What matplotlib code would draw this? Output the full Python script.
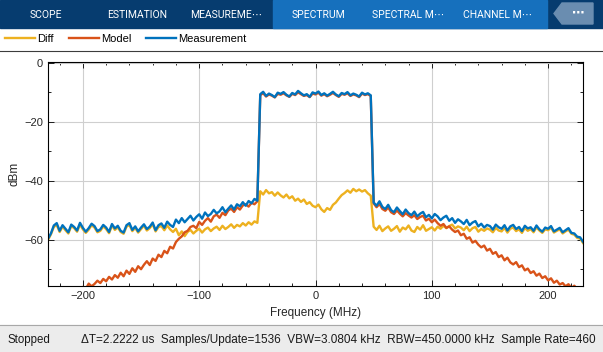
import numpy as np
import matplotlib
matplotlib.use("Agg")
import matplotlib.pyplot as plt
from matplotlib.patches import Rectangle, Polygon
from matplotlib.lines import Line2D
from matplotlib.ticker import MultipleLocator

plt.rcParams['font.family'] = ['Liberation Sans', 'DejaVu Sans']

# frequency grid of the spectrum trace (MHz)
freq = np.arange(-230, 230.01, 2.5)

# Measurement trace (dBm): left skirt, in-band, right skirt
meas_left = [-59.6, -57.8, -55.1, -54.3, -56.9, -55.0, -56.2, -57.4, -54.8, -55.6,
             -56.8, -54.2, -55.9, -57.2, -56.0, -54.5, -55.3, -57.0, -56.4, -54.9,
             -55.8, -57.3, -54.6, -56.1, -55.2, -56.9, -57.5, -55.0, -54.3, -56.6,
             -55.4, -57.1, -55.8, -54.7, -56.3, -55.5, -54.1, -56.7, -55.0, -54.4,
             -55.9, -53.8, -54.9, -55.6, -53.1, -54.3, -52.6, -54.0, -52.9, -51.8,
             -53.4, -52.2, -51.3, -52.8, -50.7, -51.9, -51.2, -49.8, -51.0, -50.3,
             -48.9, -50.6, -49.4, -48.3, -49.7, -47.9, -48.6, -47.2, -48.4, -46.8,
             -47.6, -46.1, -46.7]
meas_band = [-10.6, -9.8, -11.2, -10.4, -10.9, -11.6, -10.1, -10.5, -9.9, -10.8,
             -11.4, -10.2, -10.7, -9.5, -10.3, -11.0, -10.6, -11.5, -10.0, -10.4,
             -9.7, -10.9, -10.3, -11.1, -10.5, -9.8, -10.7, -11.3, -10.2, -10.6,
             -9.9, -11.0, -10.4, -10.8, -11.4, -10.1, -10.7, -10.3, -11.0]
meas_right = [-47.3, -48.4, -46.9, -48.8, -49.5, -48.1, -49.9, -50.6, -49.0, -50.2,
              -51.3, -49.7, -50.9, -51.6, -50.4, -52.0, -51.1, -50.5, -52.3, -51.5,
              -52.7, -51.2, -52.0, -53.3, -52.4, -51.8, -53.5, -52.6, -54.2, -53.0,
              -53.7, -54.6, -53.2, -55.0, -54.1, -53.6, -55.4, -54.5, -55.8, -54.9,
              -55.3, -56.5, -54.8, -55.7, -56.2, -55.0, -56.8, -55.4, -54.9, -56.3,
              -55.6, -57.0, -55.2, -56.1, -55.7, -56.9, -55.1, -56.4, -57.2, -55.8,
              -56.2, -55.3, -57.1, -56.5, -55.9, -57.4, -56.7, -56.0, -57.6, -57.8,
              -58.9, -59.1, -60.6]

# Model trace (dBm)
model_left = [-80.3, -79.1, -80.0, -78.6, -79.5, -78.2, -79.0, -77.6, -78.4, -77.8,
              -76.5, -77.2, -75.9, -76.6, -74.8, -75.7, -74.9, -73.8, -74.6, -73.2,
              -74.0, -72.5, -73.4, -71.9, -72.8, -71.1, -72.3, -70.4, -71.5, -69.6,
              -70.8, -68.9, -69.9, -68.4, -67.2, -68.5, -66.3, -67.1, -65.0, -65.8,
              -63.7, -64.5, -62.3, -62.9, -60.7, -59.6, -58.8, -57.4, -56.9, -55.6,
              -55.2, -56.0, -53.9, -54.9, -53.5, -52.6, -53.8, -52.0, -51.4, -52.5,
              -50.8, -51.6, -50.0, -49.4, -50.5, -48.9, -49.7, -48.3, -47.9, -48.7,
              -47.4, -47.9, -46.9]
model_band = [-10.9, -10.3, -11.4, -10.7, -11.1, -11.7, -10.5, -10.8, -10.3, -11.0,
              -11.5, -10.5, -10.9, -10.0, -10.6, -11.2, -10.9, -11.6, -10.4, -10.7,
              -10.1, -11.1, -10.6, -11.3, -10.8, -10.2, -10.9, -11.5, -10.5, -10.8,
              -10.3, -11.2, -10.7, -11.0, -11.6, -10.4, -10.9, -10.6, -11.2]
model_right = [-47.6, -48.9, -47.8, -49.5, -50.1, -49.0, -50.6, -51.2, -50.0, -51.1,
               -52.0, -50.9, -51.7, -52.4, -51.6, -52.9, -52.2, -51.8, -53.4, -52.8,
               -54.0, -53.1, -54.3, -55.2, -54.6, -55.9, -55.4, -56.5, -57.3, -56.8,
               -58.4, -57.9, -59.6, -59.1, -60.9, -60.3, -61.6, -62.5, -61.9, -63.6,
               -63.0, -64.7, -64.1, -65.8, -65.2, -66.9, -66.0, -67.6, -68.3, -67.5,
               -69.2, -68.6, -70.3, -69.7, -71.2, -70.6, -72.1, -71.4, -72.9, -72.3,
               -73.7, -73.0, -74.5, -73.8, -75.1, -74.6, -75.7, -75.0, -76.2, -75.5,
               -76.6, -76.0, -77.1]

# Diff trace (dBm)
diff_left = [-60.0, -58.1, -55.6, -54.9, -57.3, -55.5, -56.7, -57.8, -55.3, -56.0,
             -57.2, -54.8, -56.4, -57.6, -56.5, -55.0, -55.8, -57.4, -56.9, -55.4,
             -56.3, -57.7, -55.1, -56.6, -55.7, -57.3, -57.9, -55.5, -54.9, -57.0,
             -55.9, -57.5, -56.3, -55.2, -56.8, -56.0, -54.7, -57.1, -55.6, -55.3,
             -56.7, -55.1, -56.4, -57.3, -56.2, -58.4, -57.1, -58.7, -57.3, -56.6,
             -57.8, -56.9, -56.2, -57.5, -56.4, -55.8, -57.0, -56.1, -55.5, -56.6,
             -55.2, -56.3, -55.6, -54.7, -55.9, -54.9, -55.4, -54.3, -55.1, -54.0,
             -54.8, -53.7, -54.2]
diff_band = [-43.5, -44.6, -43.1, -44.2, -43.8, -45.0, -43.9, -44.9, -45.6, -44.6,
             -45.9, -45.2, -46.7, -46.0, -47.1, -46.3, -47.8, -47.2, -48.4, -48.9,
             -48.0, -49.6, -50.5, -49.2, -49.8, -48.1, -47.3, -46.0, -44.8, -44.1,
             -43.2, -44.0, -42.7, -43.5, -42.9, -43.6, -43.1, -44.2, -45.0]
diff_right = [-55.5, -56.6, -55.2, -57.0, -56.1, -55.4, -56.9, -56.2, -55.3, -57.2,
              -55.8, -56.4, -55.1, -56.8, -57.3, -55.6, -56.5, -55.0, -56.9, -56.3,
              -55.7, -56.8, -55.5, -56.2, -55.2, -56.0, -55.3, -54.8, -56.1, -55.4,
              -55.8, -56.7, -55.5, -57.0, -56.0, -55.6, -57.2, -56.3, -56.9, -56.1,
              -56.5, -57.4, -55.9, -56.8, -57.1, -55.9, -57.5, -56.2, -55.8, -57.0,
              -56.4, -57.6, -55.9, -56.9, -56.3, -57.4, -55.7, -56.8, -57.6, -56.4,
              -56.7, -55.8, -57.5, -56.9, -56.4, -57.8, -57.1, -56.5, -57.9, -58.2,
              -59.3, -59.5, -61.0]

measurement = np.array(meas_left + meas_band + meas_right)
model = np.array(model_left + model_band + model_right)
diff = np.array(diff_left + diff_band + diff_right)

tabs = ["SCOPE", "ESTIMATION", "MEASUREME\u22ef", "SPECTRUM", "SPECTRAL M\u22ef", "CHANNEL M\u22ef"]
tab_x = [46, 137, 226, 318, 408, 498]
status_text = "\u0394T=2.2222 us  Samples/Update=1536  VBW=3.0804 kHz  RBW=450.0000 kHz  Sample Rate=460"

W, H = 603, 352


def fx(px):
    return px / W


def fy(py):
    return 1 - py / H


fig = plt.figure(figsize=(W / 100, H / 100), dpi=100)

# toolstrip
fig.add_artist(Rectangle((0, fy(28)), 1, 28 / H, transform=fig.transFigure,
                         color='#063c6f', zorder=0))
fig.add_artist(Rectangle((fx(273), fy(28)), (547 - 273) / W, 28 / H,
                         transform=fig.transFigure, color='#1670bd', zorder=0))
btn = [(554, 13.5), (562, 3), (593, 3), (593, 24), (562, 24)]
fig.add_artist(Polygon([(fx(a), fy(b)) for a, b in btn], closed=True,
                       transform=fig.transFigure, color='#6a8db0', zorder=1))
for lab, x in zip(tabs, tab_x):
    fig.text(fx(x), fy(14.5), lab, color='white', ha='center', va='center',
             fontsize=7.5, family=['Roboto', 'DejaVu Sans'])
fig.text(fx(578), fy(13.5), "\u22ef", color='white', ha='center', va='center',
         fontsize=9, fontweight='bold', family=['DejaVu Sans'])

# separator under legend
fig.add_artist(Line2D([0, 1], [fy(50.5), fy(50.5)], transform=fig.transFigure,
                      color='#3c3c3c', lw=0.8))

# status bar
fig.add_artist(Rectangle((0, 0), 1, 27 / H, transform=fig.transFigure,
                         color='#ececec', zorder=0))
fig.add_artist(Line2D([0, 1], [27 / H, 27 / H], transform=fig.transFigure,
                      color='#a8a8a8', lw=0.8))
fig.text(fx(8), fy(339.5), "Stopped", fontsize=8.3, va='center', color='#1a1a1a')
fig.text(fx(81), fy(339.5), status_text, fontsize=8.5, va='center', color='#1a1a1a')

# spectrum axes
ax = fig.add_axes([fx(48), fy(286), (583 - 48) / W, (286 - 62) / H])
l_diff, = ax.plot(freq, diff, color='#EDB120', lw=1.7)
l_model, = ax.plot(freq, model, color='#D95319', lw=1.7)
l_meas, = ax.plot(freq, measurement, color='#0072BD', lw=1.7)

ax.set_xlim(-230, 230)
ax.set_ylim(-75.6, 0.3)
ax.xaxis.set_major_locator(MultipleLocator(100))
ax.xaxis.set_minor_locator(MultipleLocator(20))
ax.yaxis.set_major_locator(MultipleLocator(20))
ax.yaxis.set_minor_locator(MultipleLocator(10))
ax.tick_params(which='both', direction='in', top=True, right=True,
               labelsize=8, labelcolor='#262626', width=0.6)
ax.tick_params(which='major', length=4)
ax.tick_params(which='minor', length=2.5)
ax.grid(True, which='major', color='#cfcfcf', lw=0.8)
ax.set_axisbelow(True)
for s in ax.spines.values():
    s.set_linewidth(0.8)
ax.set_xlabel("Frequency (MHz)", fontsize=8.5, color='#262626')
ax.set_ylabel("dBm", fontsize=8.5, color='#262626')
ax.xaxis.set_label_coords(0.5, -0.094)
ax.yaxis.set_label_coords(-0.052, 0.5)

fig.legend([l_diff, l_model, l_meas], ["Diff", "Model", "Measurement"],
           loc='center left', bbox_to_anchor=(fx(5), fy(39)), ncol=3,
           frameon=False, fontsize=8, handlelength=2.7, handletextpad=0.2,
           columnspacing=1.35, borderpad=0, borderaxespad=0)

fig.savefig("out.png", dpi=100)
